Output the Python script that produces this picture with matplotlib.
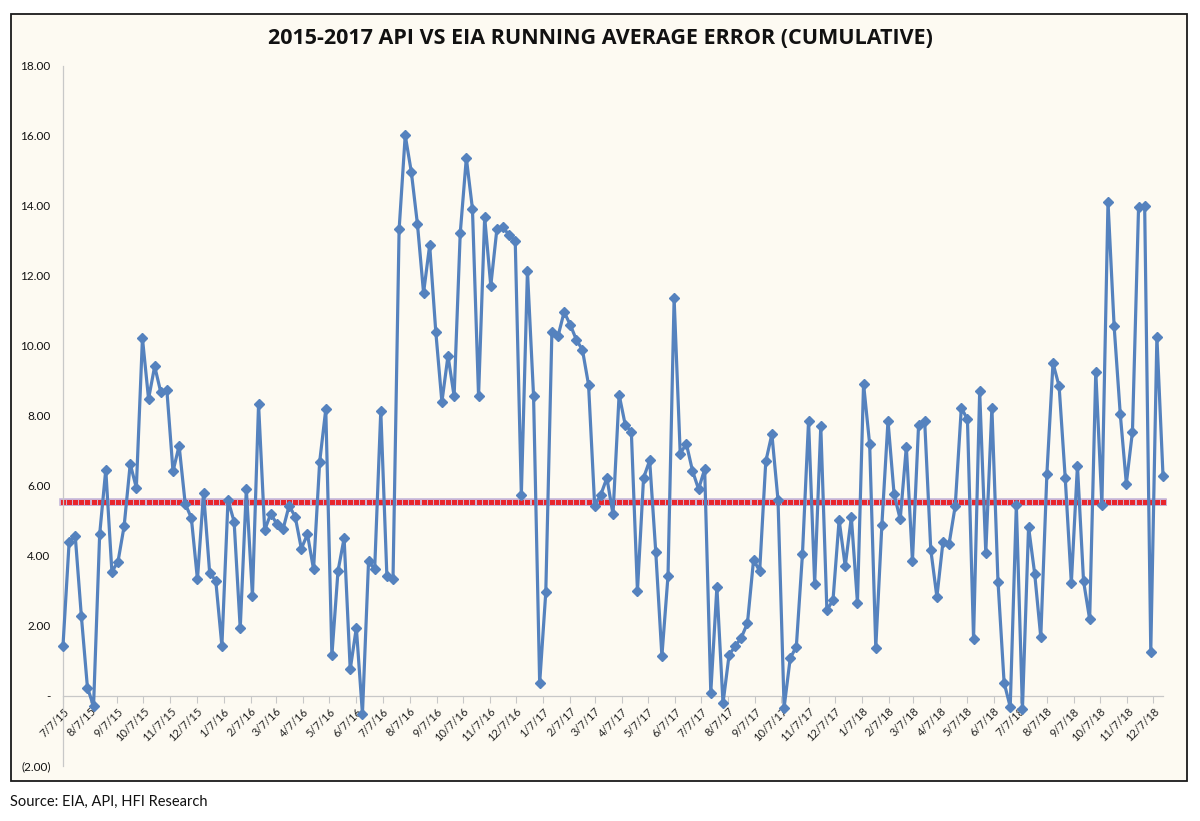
import matplotlib
matplotlib.use("Agg")
import matplotlib.pyplot as plt
from matplotlib.patches import Rectangle
from matplotlib.ticker import FuncFormatter, MultipleLocator
import pandas as pd

# weekly running average error, starting 7/7/15
errors = [
    1.44, 4.39, 4.58, 2.29, 0.24, -0.29, 4.62, 6.47, 3.55, 3.84,
    4.85, 6.63, 5.95, 10.22, 8.49, 9.42, 8.68, 8.73, 6.42, 7.15,
    5.49, 5.09, 3.33, 5.81, 3.52, 3.29, 1.43, 5.60, 4.98, 1.93,
    5.91, 2.86, 8.34, 4.74, 5.21, 4.91, 4.76, 5.44, 5.12, 4.21,
    4.62, 3.62, 6.69, 8.19, 1.16, 3.57, 4.51, 0.76, 1.95, -0.51,
    3.85, 3.62, 8.15, 3.42, 3.34, 13.33, 16.02, 14.97, 13.48, 11.52,
    12.88, 10.41, 8.40, 9.72, 8.57, 13.22, 15.37, 13.92, 8.57, 13.68,
    11.72, 13.34, 13.39, 13.17, 13.00, 5.74, 12.15, 8.57, 0.37, 2.96,
    10.39, 10.28, 10.97, 10.61, 10.18, 9.89, 8.89, 5.44, 5.75, 6.23,
    5.19, 8.61, 7.75, 7.55, 3.00, 6.23, 6.73, 4.11, 1.14, 3.43,
    11.36, 6.92, 7.21, 6.44, 5.91, 6.48, 0.10, 3.11, -0.21, 1.18,
    1.42, 1.67, 2.08, 3.89, 3.57, 6.70, 7.48, 5.60, -0.33, 1.08,
    1.41, 4.05, 7.86, 3.21, 7.71, 2.45, 2.74, 5.03, 3.71, 5.11,
    2.67, 8.92, 7.19, 1.38, 4.90, 7.86, 5.76, 5.05, 7.12, 3.86,
    7.73, 7.86, 4.18, 2.83, 4.41, 4.35, 5.43, 8.24, 7.90, 1.64,
    8.70, 4.09, 8.24, 3.26, 0.38, -0.31, 5.46, -0.38, 4.83, 3.50,
    1.68, 6.35, 9.51, 8.85, 6.23, 3.23, 6.58, 3.28, 2.19, 9.27,
    5.47, 14.11, 10.57, 8.07, 6.07, 7.55, 13.96, 13.99, 1.27, 10.26,
    6.30,
]
dates = pd.date_range("2015-07-07", periods=len(errors), freq="7D")
average = [5.55] * len(errors)
month_ticks = pd.date_range("2015-07-01", "2018-12-01", freq="MS") + pd.Timedelta(days=6)

plt.rcParams["font.family"] = ["Lato", "DejaVu Sans"]

W, H = 1200, 821
fig = plt.figure(figsize=(W / 100, H / 100), dpi=100, facecolor="white")

# chart frame, kept behind the axes
fig.patches.append(Rectangle((11 / W, 1 - 781 / H), 1176 / W, 767 / H,
                             transform=fig.transFigure, facecolor="#fdfaf2",
                             edgecolor="#1a1a1a", linewidth=1.3, zorder=-10))

ax = fig.add_axes([63 / W, 55 / H, 1100 / W, 700 / H])
ax.set_facecolor("none")
ax.set_zorder(1)

# spines first: moving a spine resets the ticks
for side in ["top", "right"]:
    ax.spines[side].set_visible(False)
ax.spines["bottom"].set_position(("data", 0))
ax.spines["bottom"].set_color("#c8c8c8")
ax.spines["left"].set_color("#c8c8c8")
ax.spines["bottom"].set_linewidth(0.9)
ax.spines["left"].set_linewidth(0.9)

ax.plot(dates, average, color="#c4b8dc", lw=5.5, zorder=2, clip_on=False,
        marker="s", ms=4.2, mfc="#e8252b", mec="#c9b6d6", mew=0.7)
ax.plot(dates, errors, color="#5582be", lw=2.3, zorder=3, clip_on=False,
        marker="D", ms=5.5, mfc="#5582be", mec="#5582be")

ax.set_xlim(dates[0], dates[-1])
ax.set_ylim(-2, 18)

ax.yaxis.set_major_locator(MultipleLocator(2))
ax.yaxis.set_major_formatter(FuncFormatter(
    lambda v, p: "-" if abs(v) < 1e-9 else ("(%.2f)" % -v if v < 0 else "%.2f" % v)))
ax.tick_params(axis="y", length=0, pad=9, labelsize=8.5, colors="#111111")

ax.set_xticks(month_ticks)
ax.set_xticklabels([f"{d.month}/{d.day}/{d.strftime('%y')}" for d in month_ticks])
ax.tick_params(axis="x", length=5, width=0.8, color="#c8c8c8", labelsize=8,
               labelcolor="#222222", pad=2)
plt.setp(ax.get_xticklabels(), rotation=45, ha="right", rotation_mode="anchor")

fig.text(0.5, 1 - 38 / H, "2015-2017 API VS EIA RUNNING AVERAGE ERROR (CUMULATIVE)",
         ha="center", va="center", fontsize=15.5, fontweight="bold",
         family=["Open Sans", "DejaVu Sans"], color="#111111")
fig.text(10 / W, 1 - 802 / H, "Source: EIA, API, HFI Research",
         ha="left", va="center", fontsize=10.5, color="#111111")

fig.savefig("out.png", dpi=100, facecolor="white")
